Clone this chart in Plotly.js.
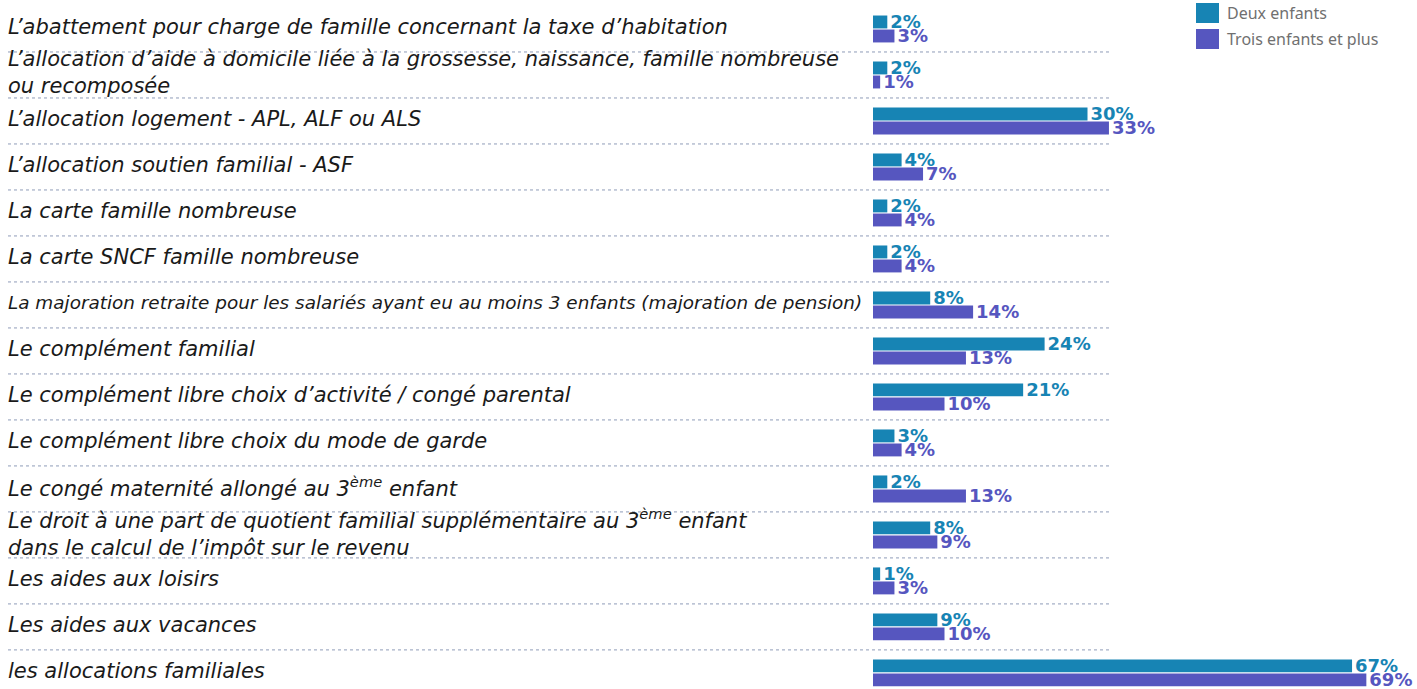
<!DOCTYPE html>
<html>
<head>
<meta charset="utf-8">
<script src="https://cdn.plot.ly/plotly-3.0.1.min.js"></script>
<style>html,body{margin:0;padding:0;background:#fff;}#chart{width:1417px;height:689px;}</style>
</head>
<body>
<div id="chart"></div>
<script>
const categories = [
  "L’abattement pour charge de famille concernant la taxe d’habitation",
  "L’allocation d’aide à domicile liée à la grossesse, naissance, famille nombreuse<br>ou recomposée",
  "L’allocation logement - APL, ALF ou ALS",
  "L’allocation soutien familial - ASF",
  "La carte famille nombreuse",
  "La carte SNCF famille nombreuse",
  "La majoration retraite pour les salariés ayant eu au moins 3 enfants (majoration de pension)",
  "Le complément familial",
  "Le complément libre choix d’activité / congé parental",
  "Le complément libre choix du mode de garde",
  "Le congé maternité allongé au 3<sup>ème</sup> enfant",
  "Le droit à une part de quotient familial supplémentaire au 3<sup>ème</sup> enfant<br>dans le calcul de l’impôt sur le revenu",
  "Les aides aux loisirs",
  "Les aides aux vacances",
  "les allocations familiales"
];
const deuxEnfants = [2, 2, 30, 4, 2, 2, 8, 24, 21, 3, 2, 8, 1, 9, 67];
const troisEnfants = [3, 1, 33, 7, 4, 4, 14, 13, 10, 4, 13, 9, 3, 10, 69];
const seriesNames = ["Deux enfants", "Trois enfants et plus"];

const W = 1417, H = 689;
const pxPerPct = 7.15, barStart = 873;
const colDeux = "#1784b4", colTrois = "#5656bf";
const catFont = "'DejaVu Sans', sans-serif";
const valFont = "'DejaVu Sans', sans-serif";

const traces = [
  {type: "bar", orientation: "h", name: seriesNames[0], y: categories, x: deuxEnfants,
   marker: {color: colDeux}, text: deuxEnfants.map(v => v + "%"), textposition: "outside",
   constraintext: "none", cliponaxis: false, showlegend: false,
   textfont: {family: valFont, size: 18, color: colDeux, weight: "bold"}, hoverinfo: "skip"},
  {type: "bar", orientation: "h", name: seriesNames[1], y: categories, x: troisEnfants,
   marker: {color: colTrois}, text: troisEnfants.map(v => v + "%"), textposition: "outside",
   constraintext: "none", cliponaxis: false, showlegend: false,
   textfont: {family: valFont, size: 18, color: colTrois, weight: "bold"}, hoverinfo: "skip"}
];

const n = categories.length;
const shapes = [];
for (let i = 0; i < n - 1; i++) {
  shapes.push({type: "line", xref: "paper", yref: "y", x0: 8 / W, x1: 1110 / W, y0: i + 0.5, y1: i + 0.5,
    line: {color: "#8f9cb8", width: 1, dash: "dot"}, layer: "below"});
}
function longestLine(c) {
  return Math.max(...c.split("<br>").map(s => s.replace(/<[^>]+>/g, "").length));
}
const annotations = categories.map((c, i) => ({
  xref: "paper", yref: "y", x: 6 / W, y: c, xanchor: "left", yanchor: "middle", align: "left",
  text: c, showarrow: false, yshift: 2,
  font: {family: catFont, size: (longestLine(c) > 85 ? 18.4 : 21), color: "#1a1a1a", style: "italic"}
}));

// custom legend (top right)
const legendColors = [colDeux, colTrois];
seriesNames.forEach((name, k) => {
  const top = 3 + k * 26;
  shapes.push({type: "rect", xref: "paper", yref: "paper", x0: 1196 / W, x1: 1219 / W,
    y0: 1 - (top + 20) / H, y1: 1 - top / H, fillcolor: legendColors[k], line: {width: 0}});
  annotations.push({xref: "paper", yref: "paper", x: 1225 / W, y: 1 - (top + 10) / H,
    xanchor: "left", yanchor: "middle", text: name, showarrow: false,
    font: {family: "'Noto Sans', sans-serif", size: 16, color: "#707070"}});
});

const layout = {
  width: W, height: H,
  margin: {l: 0, r: 0, t: 0, b: 0},
  paper_bgcolor: "#ffffff", plot_bgcolor: "#ffffff",
  barmode: "group", bargap: 0.39, bargroupgap: 0.08,
  xaxis: {range: [-barStart / pxPerPct, (W - barStart) / pxPerPct], visible: false, fixedrange: true},
  yaxis: {type: "category", range: [14.35, -0.63], visible: false, fixedrange: true},
  showlegend: false,
  shapes: shapes,
  annotations: annotations,
  font: {family: catFont}
};
Plotly.newPlot("chart", traces, layout, {displayModeBar: false, staticPlot: true});
</script>
</body>
</html>
